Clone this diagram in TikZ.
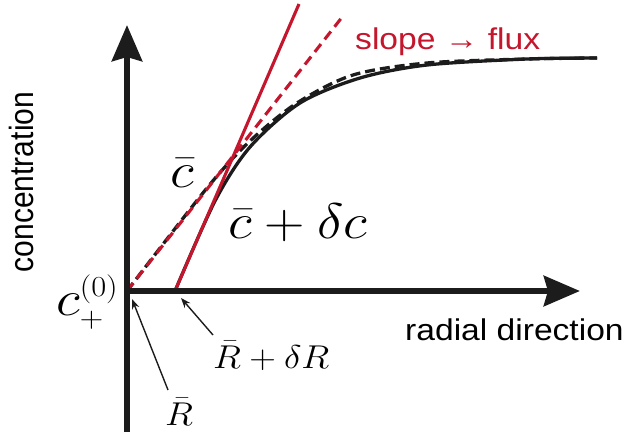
\RequirePackage{fix-cm}
\documentclass[tikz,border=0pt]{standalone}
\usepackage{fontspec}
\newfontfamily\sanslab{Liberation Sans}
\usetikzlibrary{arrows.meta}
\definecolor{myred}{RGB}{196,22,45}
\definecolor{ink}{RGB}{28,28,28}
\DeclareMathSizes{50}{50}{29}{22}
\DeclareMathSizes{33}{33}{23}{17}
\begin{document}
\begin{tikzpicture}[x=1pt,y=-1pt,
  axis/.style={line width=6.5pt, ink, -{Stealth[length=36pt,width=30pt,inset=4pt]}},
  curve/.style={line width=3.3pt, ink},
  dcurve/.style={curve, dash pattern=on 10pt off 5pt},
  redline/.style={line width=3.1pt, myred},
  reddash/.style={redline, dash pattern=on 10pt off 6pt},
  pointer/.style={line width=1.4pt, ink, -{Stealth[length=10pt,width=7.5pt]}},
  sanslabel/.style={font=\sanslab\fontsize{30}{36}\selectfont, inner sep=0pt, xscale=1.12},
  bigmath/.style={font=\fontsize{50}{56}\selectfont, inner sep=0pt, xscale=1.12},
  smallmath/.style={font=\fontsize{33}{38}\selectfont, inner sep=0pt, xscale=1.12}]
\useasboundingbox (0,0) rectangle (627,436);

\coordinate (O) at (127,291);
\coordinate (A) at (175,291);
\coordinate (ytop) at (127,25);
\coordinate (ybot) at (127,432);
\coordinate (xend) at (580,291);
\coordinate (redtop) at (299,4);
\coordinate (dashtop) at (343,16);

% curves
\draw[dcurve] plot[smooth] coordinates {(127,291) (207,188) (250,141) (297,103) (353,75) (427,63) (527,59) (597,58)};
\draw[curve] plot[smooth] coordinates {(175,291) (215,201) (250,147) (300,103) (360,78) (427,65) (527,59) (597,58)};

% tangent lines
\draw[reddash] (O) -- (dashtop);
\draw[redline] (A) -- (redtop);

% axes
\draw[axis] (ybot) -- (ytop);
\draw[axis] (O) -- (xend);

% labels
\node[sanslabel, xscale=1, rotate=90, anchor=base] (ylab) at (33,182) {concentration};
\node[sanslabel, anchor=base west] (xlab) at (405,340) {radial direction};
\node[sanslabel, text=myred, anchor=base west] (slope) at (355,50) {slope → flux};
\node[bigmath, anchor=base west] (cbar) at (170,187) {$\bar{c}$};
\node[bigmath, anchor=base west] (cdc) at (228,238) {$\bar{c}+\delta c$};
\node[bigmath, anchor=base west] (c0) at (56,315) {$c_+^{(0)}$};
\node[smallmath, anchor=base west] (RdR) at (213,368) {$\bar{R}+\delta R$};
\node[smallmath, anchor=base west] (Rb) at (165,425) {$\bar{R}$};

% pointers
\coordinate (p1s) at (213,335);
\coordinate (p1e) at (181,298);
\coordinate (p2s) at (168,390);
\coordinate (p2e) at (132,299);
\draw[pointer] (p1s) -- (p1e);
\draw[pointer] (p2s) -- (p2e);
\end{tikzpicture}
\end{document}
